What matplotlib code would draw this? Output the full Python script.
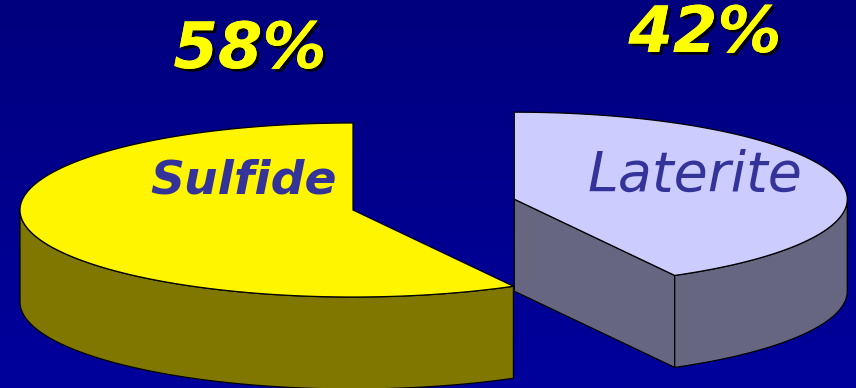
import matplotlib.pyplot as plt
import matplotlib.patheffects as pe
from matplotlib.patches import Polygon
from matplotlib.colors import LinearSegmentedColormap
import numpy as np

# data
labels = ['Sulfide', 'Laterite']
shares = [58, 42]
pct_labels = ['58%', '42%']

# style / layout
top_colors = ['#FFF500', '#CCCCFF']
side_colors = ['#7F7700', '#666680']
explode = [0.0, 0.5]
cx, cy = 353, 210       # pie centre (pixels)
rx, ry = 333, 87        # ellipse radii of the top face
depth = 92              # thickness of the pie
start_angle = 90.0

W, H = 856, 388
fig = plt.figure(figsize=(W / 100, H / 100), dpi=100)
ax = fig.add_axes([0, 0, 1, 1])
ax.set_xlim(0, W)
ax.set_ylim(H, 0)
ax.axis('off')

# background gradient
bg = LinearSegmentedColormap.from_list('bg', ['#00007E', '#00009C'])
ax.imshow(np.linspace(0, 1, 256).reshape(-1, 1), cmap=bg, aspect='auto',
          extent=[0, W, H, 0], zorder=0)


def pt(t, ox, oy, dz=0.0):
    return ox + rx * np.cos(t), oy - ry * np.sin(t) + dz


# wedge geometry from the shares
fracs = np.array(shares) / sum(shares)
bounds = start_angle + 360 * np.concatenate([[0], np.cumsum(fracs)])
wedges = []
for i in range(len(shares)):
    t0, t1 = np.radians(bounds[i]), np.radians(bounds[i + 1])
    mid = (t0 + t1) / 2
    ox = cx + explode[i] * rx * np.cos(mid)
    oy = cy - explode[i] * ry * np.sin(mid)
    wedges.append((i, t0, t1, ox, oy))

lw = 0.9
# back to front
for i, t0, t1, ox, oy in sorted(wedges, key=lambda w: w[4]):
    z = 2 + oy / 1000
    # radial side faces
    if np.cos(t0) > 1e-6:
        x0, y0 = pt(t0, ox, oy)
        ax.add_patch(Polygon([(ox, oy), (x0, y0), (x0, y0 + depth), (ox, oy + depth)],
                             closed=True, fc=side_colors[i], ec='black', lw=lw, zorder=z))
    if np.cos(t1) < -1e-6:
        x1, y1 = pt(t1, ox, oy)
        ax.add_patch(Polygon([(ox, oy), (x1, y1), (x1, y1 + depth), (ox, oy + depth)],
                             closed=True, fc=side_colors[i], ec='black', lw=lw, zorder=z))
    # outer wall (front half only)
    ts = np.linspace(t0, t1, 400)
    vis = ts[np.sin(ts) <= 1e-9]
    if len(vis) > 1:
        xs, ys = pt(vis, ox, oy)
        wall = np.vstack([np.column_stack([xs, ys]),
                          np.column_stack([xs[::-1], ys[::-1] + depth])])
        ax.add_patch(Polygon(wall, closed=True, fc=side_colors[i], ec='black',
                             lw=lw, zorder=z + 0.001))
    # top face
    xs, ys = pt(ts, ox, oy)
    top = np.vstack([[ox, oy], np.column_stack([xs, ys])])
    ax.add_patch(Polygon(top, closed=True, fc=top_colors[i], ec='black',
                         lw=lw, zorder=z + 0.002))

# labels
shadow = [pe.withSimplePatchShadow(offset=(2, -2), shadow_rgbFace='black', alpha=0.9),
          pe.Normal()]
ax.text(250, 50, pct_labels[0], fontsize=46, fontweight='bold', fontstyle='italic',
        color='#FFFF00', ha='center', va='center', path_effects=shadow, zorder=5)
ax.text(705, 34, pct_labels[1], fontsize=46, fontweight='bold', fontstyle='italic',
        color='#FFFF00', ha='center', va='center', path_effects=shadow, zorder=5)
ax.text(244, 181, labels[0], fontsize=34, fontweight='bold', fontstyle='italic',
        color='#333399', ha='center', va='center', zorder=5)
ax.text(695, 175, labels[1], fontsize=40, fontstyle='italic',
        color='#333399', ha='center', va='center', zorder=5)

fig.savefig('out.png', dpi=100, facecolor='#000080')
